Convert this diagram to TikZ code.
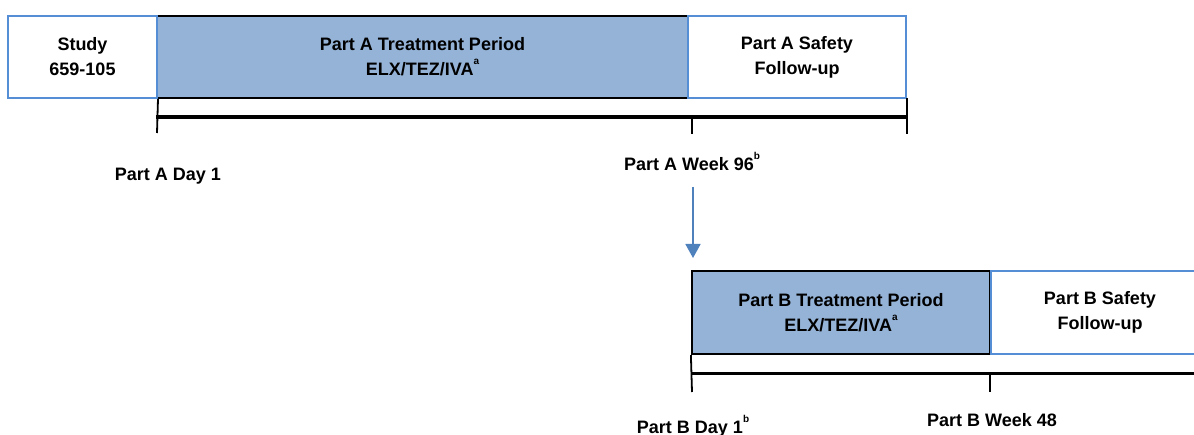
\documentclass[tikz,border=0pt]{standalone}
\usepackage{fontspec}
\setmainfont{Liberation Sans}
\usetikzlibrary{arrows.meta}
\definecolor{bordblue}{RGB}{85,142,213}
\definecolor{fillblue}{RGB}{149,179,215}
\definecolor{arrblue}{RGB}{79,129,189}
\newcommand{\supl}[1]{\raisebox{11pt}{\fontsize{10}{10}\selectfont #1}}
\tikzset{
  boxtxt/.style={font=\bfseries\fontsize{18}{25}\selectfont, align=center, inner sep=0pt},
  whitebox/.style={boxtxt, draw=bordblue, line width=2pt, fill=white},
  treatbox/.style={boxtxt, draw=black, line width=2.2pt, fill=fillblue},
  timeline/.style={line width=3.5pt, black},
  tick/.style={line width=1.8pt, black},
  lbl/.style={font=\bfseries\fontsize{18}{22}\selectfont, inner sep=0pt, anchor=base},
  arr/.style={draw=arrblue, line width=1.8pt, -{Triangle[width=15pt,length=14pt]}}
}
\begin{document}
\begin{tikzpicture}[x=1pt,y=-1pt]
\useasboundingbox (0,0) rectangle (1194,435);
\clip (0,0) rectangle (1194,435);
% ---- Part A row
\node[treatbox, minimum width=531pt, minimum height=82pt] (treatA) at (422.5,57) {Part A Treatment Period\\ELX/TEZ/IVA\supl{a}};
\node[whitebox, minimum width=149pt, minimum height=82pt] (studyA) at (82.5,57) {Study\\659-105};
\node[whitebox, minimum width=218pt, minimum height=82pt] (safeA) at (797,57) {Part A Safety\\Follow-up};
% timeline A
\coordinate (tAl) at (157,117);
\coordinate (tAm) at (692,117);
\coordinate (tAr) at (907,117);
\draw[timeline] ([xshift=-0.9pt]tAl) -- ([xshift=0.9pt]tAr);
\draw[tick] (studyA.south east) -- (157,133);
\draw[tick] (tAm) -- (692,134);
\draw[tick] (907,98) -- (907,134);
\node[lbl] (dayA) at (168,181) {Part A Day 1};
\node[lbl] (wkA) at (689,171) {Part A Week 96\rlap{\supl{b}}};
% arrow
\coordinate (arrS) at (693,187);
\coordinate (arrE) at (693,258);
\draw[arr] (arrS) -- (arrE);
% ---- Part B row
\node[treatbox, minimum width=298pt, minimum height=83pt] (treatB) at (841,312.5) {Part B Treatment Period\\ELX/TEZ/IVA\supl{a}};
\node[whitebox, minimum width=218pt, minimum height=83pt, anchor=west] (safeB) at (990,312.5) {Part B Safety\\Follow-up};
% timeline B
\coordinate (tBl) at (692,373.5);
\coordinate (tBm) at (990,373.5);
\draw[timeline] ([xshift=-0.9pt]tBl) -- (1200,373.5);
\draw[tick] (treatB.south west) -- (692,392);
\draw[tick] (tBm) -- (990,392);
\node[lbl] (dayB) at (690,433) {Part B Day 1\rlap{\supl{b}}};
\node[lbl] (wkB) at (992,426) {Part B Week 48};
\end{tikzpicture}
\end{document}
